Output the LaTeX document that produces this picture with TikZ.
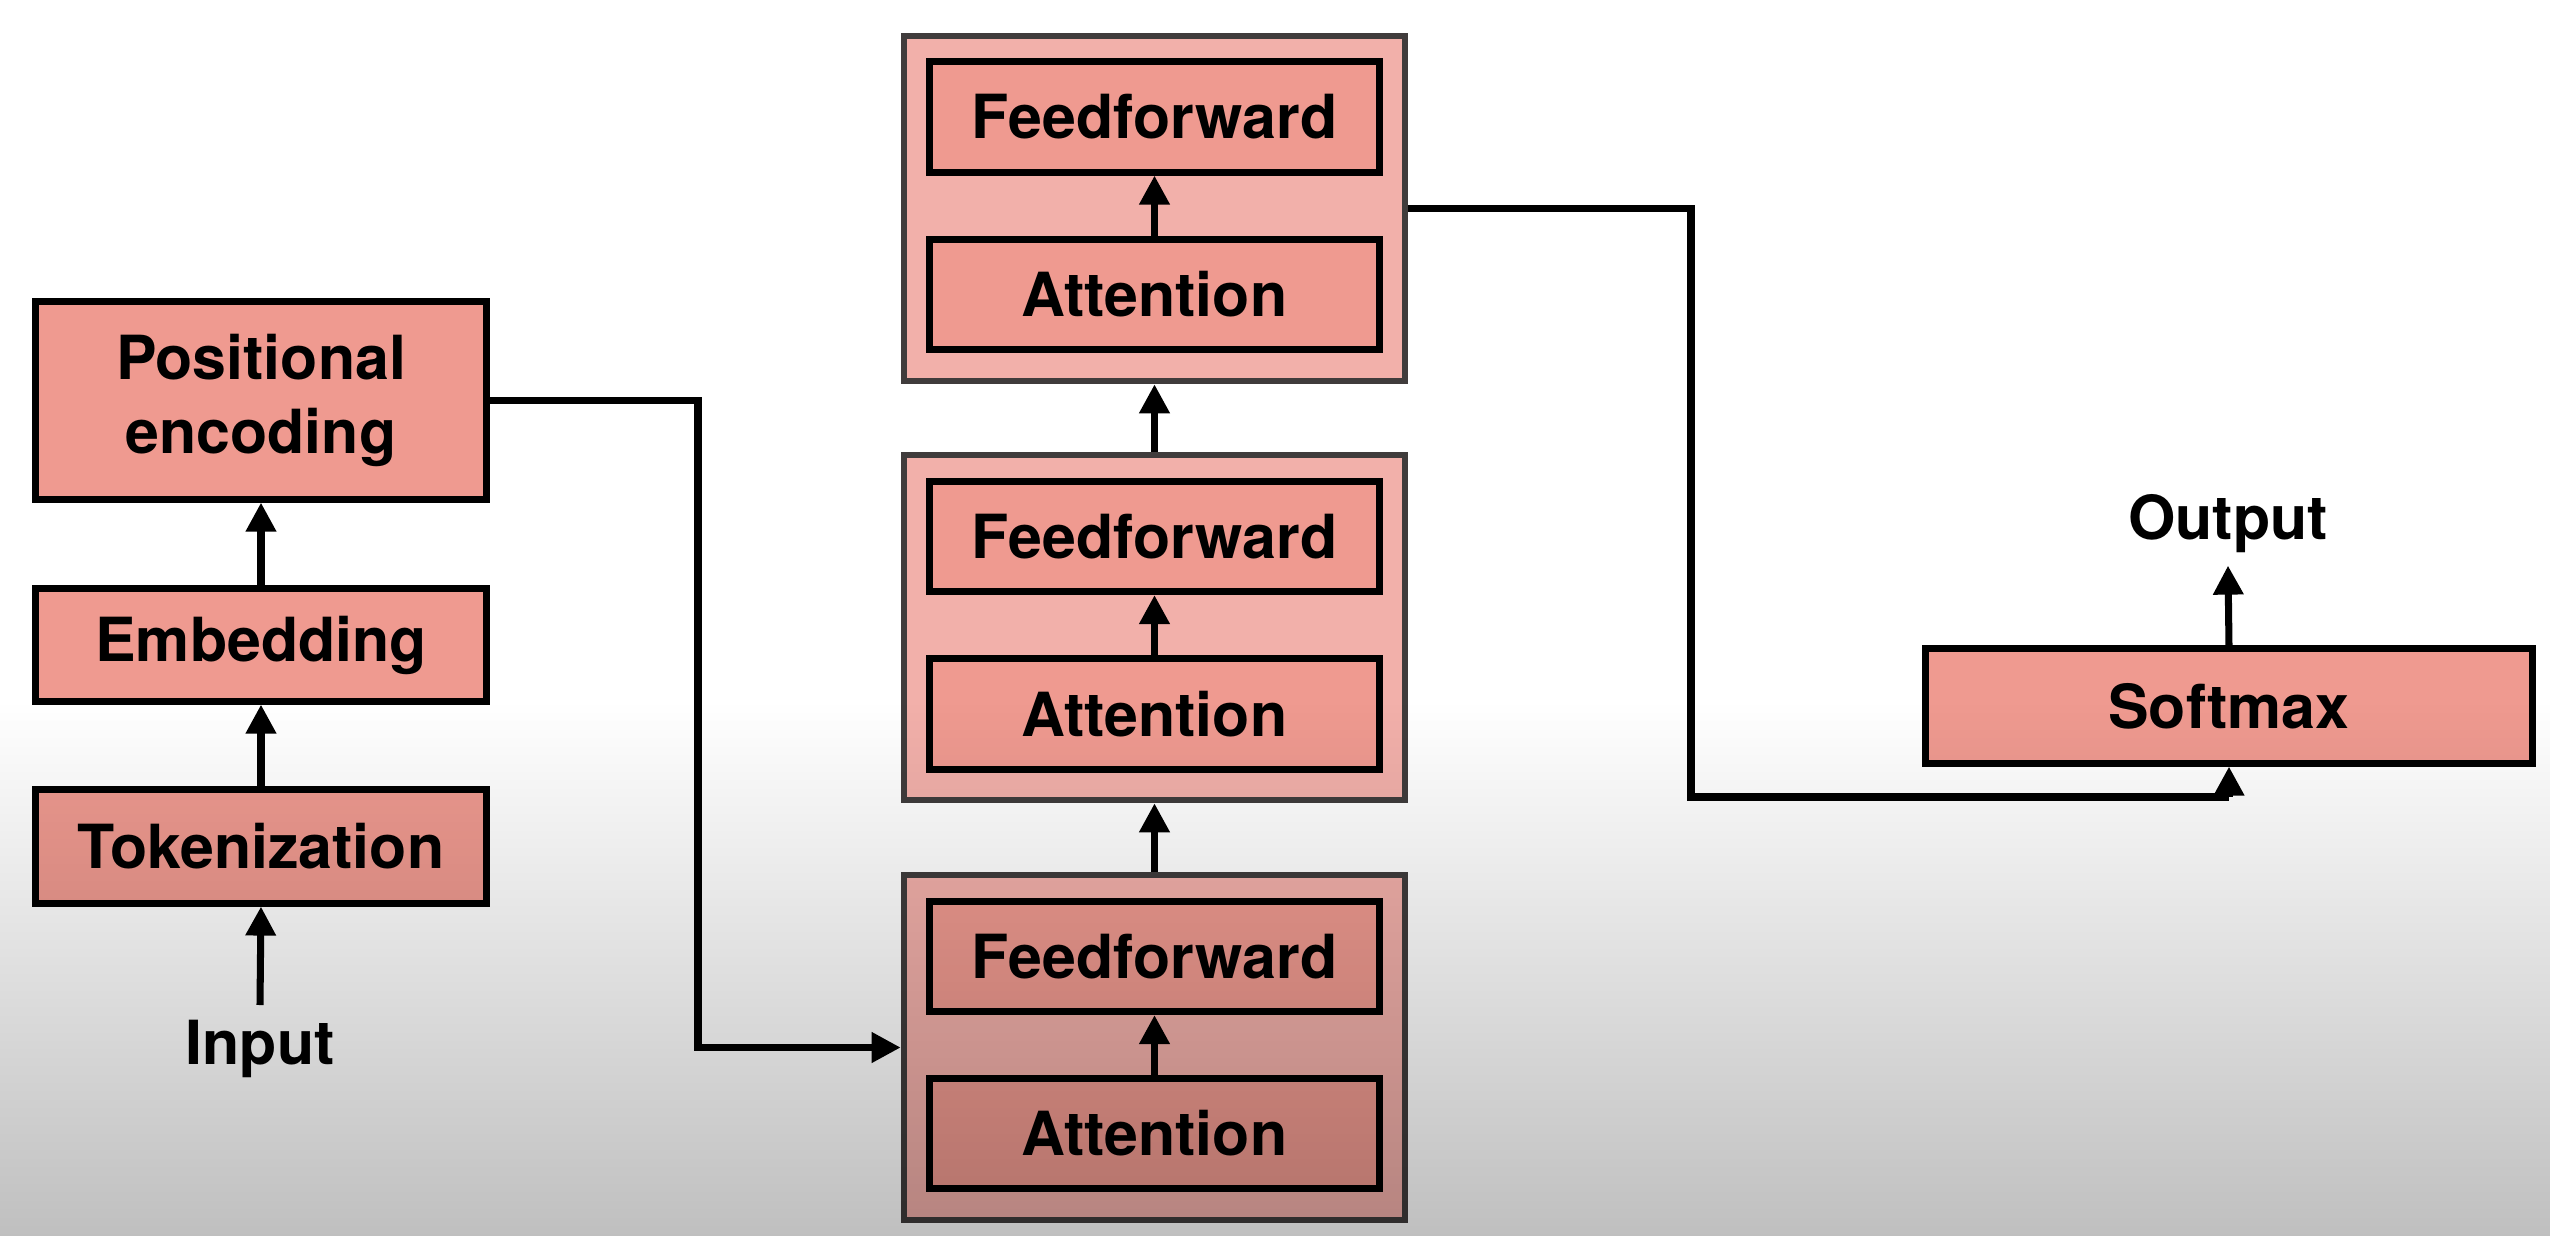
\documentclass[tikz,border=0pt]{standalone}
\usepackage{fontspec}
\setmainfont{TeX Gyre Heros}
\usetikzlibrary{arrows.meta}
\definecolor{salmon}{HTML}{EF9A90}
\definecolor{blockfill}{HTML}{F2B0AA}
\definecolor{blockline}{HTML}{403C3C}
\begin{document}
\begin{tikzpicture}[x=0.01cm, y=-0.01cm,
  txt/.style={font=\fontsize{17.3}{21}\selectfont\bfseries, text=black, align=center},
  box/.style={txt, draw=black, line width=2pt, fill=salmon, inner sep=0pt, minimum width=4.5cm},
  inbox/.style={box, minimum width=4.49cm, minimum height=1.1cm},
  block/.style={draw=blockline, line width=1.8pt, fill=blockfill, inner sep=0pt, minimum width=5.01cm, minimum height=3.45cm},
  arr/.style={line width=2pt, -{Triangle[width=0.29cm,length=0.29cm]}},
  ln/.style={line width=2pt}]
\fill[white] (0,0) rectangle (2550,1236);
\useasboundingbox (0,0) rectangle (2550,1236);
% left column
\node[box, minimum height=1.97cm] (pe) at (261,400.5) {Positional\\encoding};
\node[box, minimum height=1.12cm] (emb) at (261,645) {Embedding};
\node[box, minimum height=1.13cm] (tok) at (261,846.5) {Tokenization};
\node[txt] (inp) at (260,1049) {Input};
\coordinate (inpa) at (260,1005);
\draw[arr] (inpa) -- (tok.north |- tok.south);
\draw[arr] (tok.north) -- (emb.south);
\draw[arr] (emb.north) -- (pe.south);
% blocks
\node[block] (b3) at (1154.5,208.5) {};
\node[block] (b2) at (1154.5,627.5) {};
\node[block] (b1) at (1154.5,1047.5) {};
\node[inbox] (f3) at (1154.5,117) {Feedforward};
\node[inbox] (a3) at (1154.5,294.5) {Attention};
\node[inbox] (f2) at (1154.5,536.5) {Feedforward};
\node[inbox] (a2) at (1154.5,714) {Attention};
\node[inbox] (f1) at (1154.5,956.5) {Feedforward};
\node[inbox] (a1) at (1154.5,1133.5) {Attention};
\draw[arr] (a3.north) -- (f3.south);
\draw[arr] (a2.north) -- (f2.south);
\draw[arr] (a1.north) -- (f1.south);
\draw[arr] (b1.north) -- (b2.south);
\draw[arr] (b2.north) -- (b3.south);
% connector from positional encoding
\coordinate (k1) at (698,0);
\draw[arr] (pe.east) -- (pe.east -| k1) |- (b1.west);
% softmax
\node[box, minimum width=6.06cm, minimum height=1.14cm] (sm) at (2229,706) {Softmax};
\node[txt] (out) at (2228,524) {Output};
\coordinate (k2) at (1691,797);
\draw[ln] (b3.east) -| (k2) -- (sm.south |- k2);
\draw[arr] (sm.south |- k2) -- (sm.south);
\draw[arr] (sm.north) -- (out.south);
% video-like shading over the lower part
\shade[top color=white, bottom color=black!25, blend mode=multiply] (0,700) rectangle (2550,1236);
\end{tikzpicture}
\end{document}
